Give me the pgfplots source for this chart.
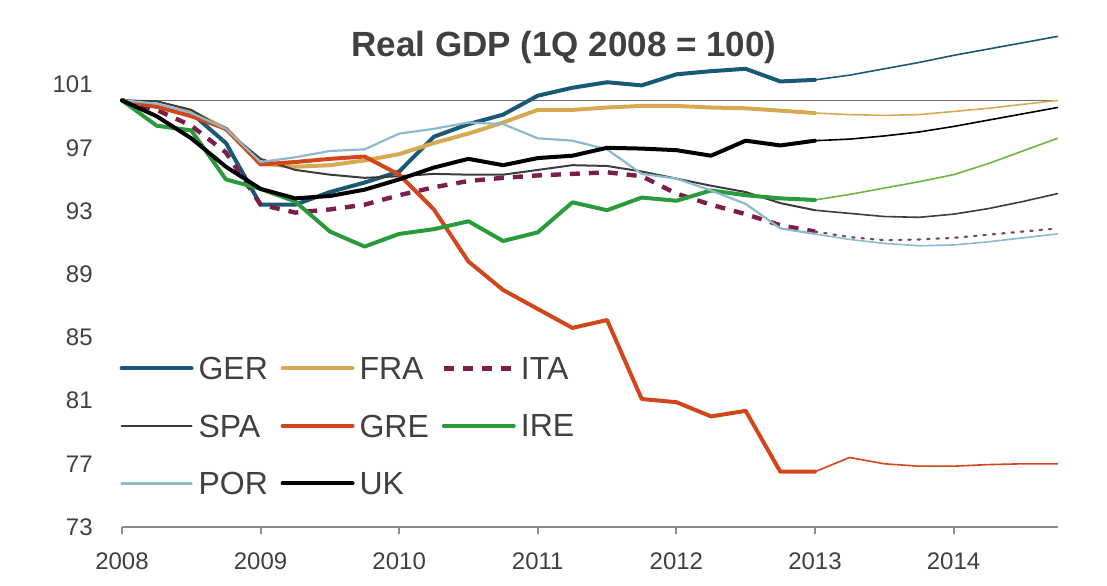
\documentclass[border=0pt]{standalone}
\usepackage{pgfplots}
\pgfplotsset{compat=1.18}
\usepackage{pgfplotstable}
\usepackage{fontspec}
\setmainfont{Liberation Sans}
\definecolor{ger}{HTML}{1A5878}
\definecolor{fra}{HTML}{D6AA52}
\definecolor{ita}{HTML}{7A1F4A}
\definecolor{spa}{HTML}{3C3C3C}
\definecolor{gre}{HTML}{D2461C}
\definecolor{ire}{HTML}{2A9A3C}
\definecolor{iref}{HTML}{6DB640}
\definecolor{por}{HTML}{8CBACB}
\definecolor{ukc}{HTML}{000000}
\definecolor{textgray}{HTML}{404040}
\definecolor{axisgray}{HTML}{8A8A8A}
\definecolor{linegray}{HTML}{707070}

\pgfplotstableread{
x       GER    FRA    ITA    SPA    GRE    IRE    POR    UK
2008.00 100    100    100    100    100    100    100    100
2008.25 99.6   99.6   99.4   99.95  99.6   98.4   99.8   99.0
2008.50 99.2   99.3   98.4   99.4   99.0   98.1   99.2   97.6
2008.75 97.3   98.2   96.7   98.1   98.2   95.0   98.2   95.8
2009.00 93.4   96.0   93.4   96.3   95.95  94.4   96.1   94.4
2009.25 93.4   95.8   92.9   95.6   96.1   93.6   96.4   93.8
2009.50 94.2   95.9   93.1   95.3   96.3   91.7   96.8   93.95
2009.75 94.8   96.2   93.4   95.1   96.45  90.75  96.9   94.35
2010.00 95.5   96.6   94.0   95.2   95.3   91.55  97.9   95.0
2010.25 97.7   97.3   94.5   95.35  93.1   91.85  98.2   95.75
2010.50 98.5   97.9   94.9   95.3   89.8   92.35  98.6   96.3
2010.75 99.1   98.6   95.1   95.3   88.0   91.1   98.5   95.9
2011.00 100.3  99.4   95.25  95.6   86.8   91.65  97.6   96.35
2011.25 100.8  99.4   95.35  95.9   85.6   93.55  97.45  96.5
2011.50 101.15 99.55  95.45  95.85  86.1   93.05  96.9   97.0
2011.75 100.95 99.65  95.2   95.5   81.1   93.85  95.35  96.95
2012.00 101.65 99.65  94.1   95.05  80.9   93.65  95.05  96.85
2012.25 101.85 99.55  93.4   94.6   80.0   94.3   94.3   96.5
2012.50 102.0  99.5   92.8   94.2   80.35  94.0   93.45  97.45
2012.75 101.2  99.35  92.1   93.5   76.5   93.8   91.9   97.15
2013.00 101.3  99.2   91.7   93.05  76.5   93.7   91.55  97.45
}\hist

\pgfplotstableread{
x       GER    FRA    ITA    SPA    GRE    IRE    POR    UK
2013.00 101.3  99.2   91.7   93.05  76.5   93.7   91.55  97.45
2013.25 101.6  99.1   91.35  92.85  77.4   94.05  91.2   97.55
2013.50 102.0  99.05  91.15  92.65  77.0   94.45  90.95  97.75
2013.75 102.4  99.1   91.2   92.6   76.85  94.85  90.8   98.0
2014.00 102.85 99.3   91.3   92.8   76.85  95.3   90.85  98.35
2014.25 103.25 99.5   91.5   93.15  76.95  96.0   91.05  98.75
2014.50 103.65 99.75  91.7   93.6   77.0   96.8   91.3   99.15
2014.75 104.05 100.0  91.9   94.1   77.0   97.6   91.55  99.55
}\fcst

\begin{document}
\begin{tikzpicture}
\path[use as bounding box] (0,0) rectangle (553.5pt,292.5pt);
\begin{axis}[
  at={(61pt,29pt)}, anchor=south west, scale only axis,
  width=467.75pt, height=248.85pt,
  xmin=2008, xmax=2014.75, ymin=73, ymax=104.5,
  axis x line=bottom, axis y line=left,
  y axis line style={draw=none},
  x axis line style={draw=axisgray, line width=1.2pt, -},
  xtick={2008,2009,2010,2011,2012,2013,2014},
  ytick={73,77,81,85,89,93,97,101},
  ytick style={draw=none},
  xtick style={draw=axisgray, line width=1pt},
  tick align=outside, major tick length=3.5pt,
  /pgf/number format/1000 sep={},
  /pgf/number format/assume math mode=true,
  tick label style={font=\fontsize{12}{14}\selectfont, text=textgray},
  xticklabel style={inner sep=0pt, yshift=-9pt},
  yticklabel style={inner sep=0pt, xshift=-11pt},
  clip=false,
  legend columns=3, legend cell align=left,
  legend style={draw=none, fill=none, inner sep=0pt, at={(-0.003,0.342)}, anchor=north west,
    row sep=17.6pt, font=\fontsize{16}{18}\selectfont, text=textgray,
    nodes={inner sep=0pt, text depth=0pt, text width=38pt},
    /tikz/every odd column/.append style={column sep=2.5pt},
    /tikz/every even column/.append style={column sep=3pt}},
  legend image code/.code={\draw[#1] (0pt,0pt) -- (35pt,0pt);},
  every axis plot/.append style={line join=round, line cap=round},
]
\addplot[forget plot, linegray, line width=0.8pt] coordinates {(2008,100) (2014.75,100)};
% forecasts
\addplot[forget plot, ger, line width=0.8pt] table[x=x,y=GER] {\fcst};
\addplot[forget plot, fra, line width=0.8pt] table[x=x,y=FRA] {\fcst};
\addplot[forget plot, ita!60!gray, line width=1.1pt, dash pattern=on 1.2pt off 3.5pt] table[x=x,y=ITA] {\fcst};
\addplot[forget plot, spa, line width=0.8pt] table[x=x,y=SPA] {\fcst};
\addplot[forget plot, gre, line width=0.8pt] table[x=x,y=GRE] {\fcst};
\addplot[forget plot, iref, line width=0.8pt] table[x=x,y=IRE] {\fcst};
\addplot[forget plot, por, line width=0.8pt] table[x=x,y=POR] {\fcst};
\addplot[forget plot, ukc, line width=0.8pt] table[x=x,y=UK] {\fcst};
% history
\addplot[ger, line width=2pt] table[x=x,y=GER] {\hist};
\addlegendentry{GER}
\addplot[fra, line width=2pt] table[x=x,y=FRA] {\hist};
\addlegendentry{FRA}
\addplot[ita, line width=2.2pt, line cap=butt, dash pattern=on 5pt off 4.5pt] table[x=x,y=ITA] {\hist};
\addlegendentry{ITA}
\addplot[spa, line width=1pt] table[x=x,y=SPA] {\hist};
\addlegendentry{SPA}
\addplot[gre, line width=2pt] table[x=x,y=GRE] {\hist};
\addlegendentry{GRE}
\addplot[ire, line width=2pt] table[x=x,y=IRE] {\hist};
\addlegendentry{IRE}
\addplot[por, line width=1.1pt] table[x=x,y=POR] {\hist};
\addlegendentry{POR}
\addplot[ukc, line width=2pt] table[x=x,y=UK] {\hist};
\addlegendentry{UK}
\end{axis}
\node[font=\bfseries\fontsize{17.5}{20}\selectfont, text=textgray] at (282pt,269pt) {Real GDP (1Q 2008 = 100)};
\end{tikzpicture}
\end{document}
